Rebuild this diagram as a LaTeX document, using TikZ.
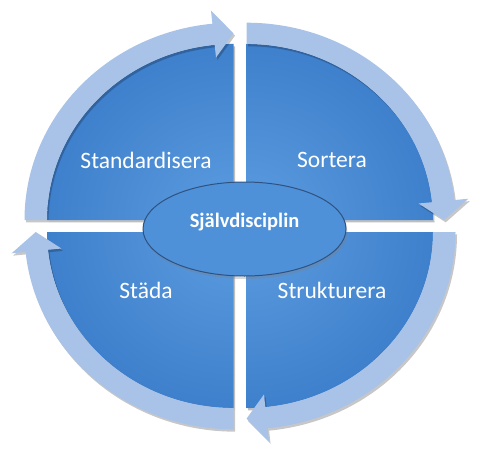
\documentclass[tikz,border=0pt]{standalone}
\usepackage{fontspec}
\setmainfont{Carlito}
\usetikzlibrary{shapes,shadows}

\definecolor{secdark}{RGB}{60,126,202}
\definecolor{seclight}{RGB}{92,156,224}
\definecolor{ringblue}{RGB}{168,195,231}
\definecolor{hubfill}{RGB}{78,145,216}
\definecolor{hubline}{RGB}{48,82,128}

\begin{document}
\begin{tikzpicture}[x=1pt,y=1pt,
        lbl/.style={text=white,font=\fontsize{23.5}{28}\selectfont},
        hub/.style={ellipse,draw=hubline,line width=1pt,fill=hubfill,
            minimum width=203pt,minimum height=94pt,
            drop shadow={opacity=.3,shadow xshift=1.5pt,shadow yshift=-3pt}},
        hubtext/.style={text=white,font=\fontsize{20.5}{24}\selectfont\bfseries}]
        \useasboundingbox (0,0) rectangle (481,448);
        % quadrants and their arrows, clockwise
        \foreach \cx/\cy/\qa in {233.5/228/180,246.5/228/90,246.5/216/0,233.5/216/-90}{
            \pgfmathsetmacro\qend{\qa-90}
            \pgfmathsetmacro\qhead{\qa-84.2}
            \scope[shift={(\cx,\cy)},yscale=0.944]
            % shadow
            \fill[black,opacity=.25,shift={(1.5,-2.5)}] (0,0) -- (\qa:186.5)
                  arc[start angle=\qa,end angle=\qend,radius=186.5] -- cycle;
            % sector
            \scope
            \clip (0,0) -- (\qa:186.5) arc[start angle=\qa,end angle=\qend,radius=186.5] -- cycle;
            \shade[inner color=seclight,outer color=secdark] (0,0) circle (200);
            \endscope
            % arrow
            \fill[black,opacity=.22,shift={(1.5,-2.5)}] (\qa:186.5)
                  arc[start angle=\qa,end angle=\qhead,radius=186.5] -- (\qhead:173) -- (\qend:197.75)
                  -- (\qhead:223) -- (\qhead:209) arc[start angle=\qhead,end angle=\qa,radius=209] -- cycle;
            \fill[ringblue] (\qa:186.5)
                  arc[start angle=\qa,end angle=\qhead,radius=186.5] -- (\qhead:173) -- (\qend:197.75)
                  -- (\qhead:223) -- (\qhead:209) arc[start angle=\qhead,end angle=\qa,radius=209] -- cycle;
            \endscope
        }
        % labels
        \node[lbl] (stand) at (146,288) {Standardisera};
        \node[lbl] (sort) at (332,288) {Sortera};
        \node[lbl] (stad) at (146,158) {Städa};
        \node[lbl] (struk) at (332,158) {Strukturera};
        % centre
        \node[hub] (hub) at (244.5,219) {};
        \node[hubtext] (core) at (244.5,226) {Självdisciplin};
    \end{tikzpicture}
\end{document}
